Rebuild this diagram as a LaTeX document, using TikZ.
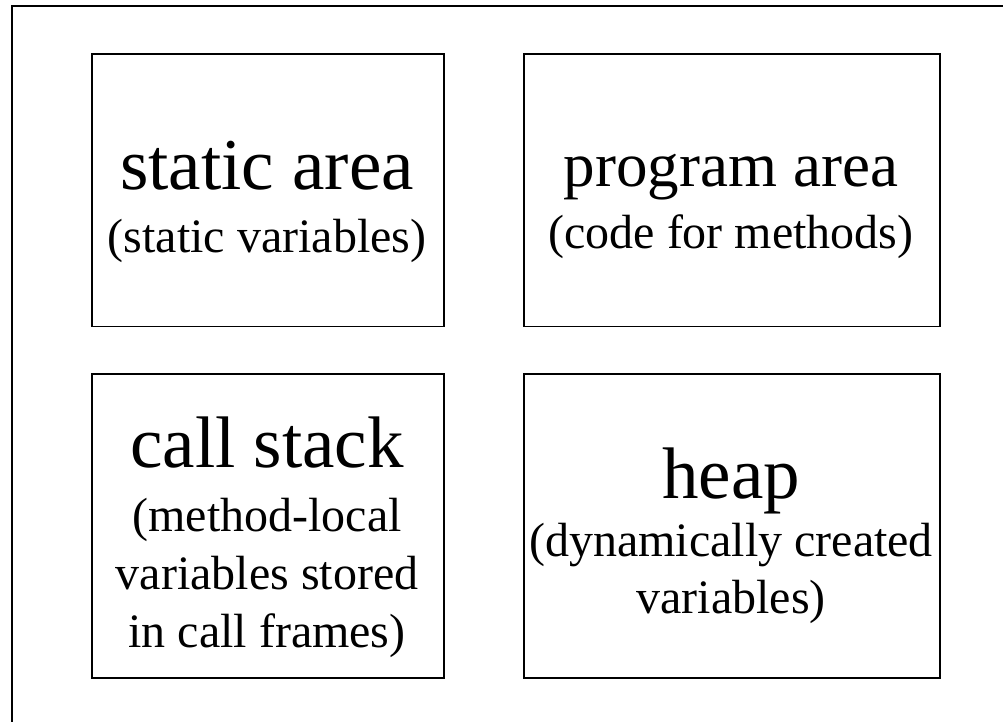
\documentclass[tikz,border=0pt]{standalone}
\usepackage{fontspec}
\setmainfont{Liberation Serif}
\begin{document}
\begin{tikzpicture}[x=1pt,y=-1pt,
  frame/.style={line width=2pt},
  area/.style={draw, line width=1.5pt, rectangle, inner sep=0pt},
  big/.style={anchor=base, inner sep=0pt, font=\fontsize{73}{88}\selectfont},
  mid/.style={anchor=base, inner sep=0pt, font=\fontsize{63}{76}\selectfont},
  small/.style={anchor=base, inner sep=0pt, font=\fontsize{48}{58}\selectfont}]
\useasboundingbox (0,0) rectangle (1003,721);
\clip (0,0) rectangle (1003,721);
\draw[frame] (12,6) rectangle (1020,740);
% boxes
\node[area, minimum width=352pt, minimum height=272.7pt] (static) at (268,190.35) {};
\node[area, minimum width=416pt, minimum height=272.7pt] (program) at (732,190.35) {};
\node[area, minimum width=352pt, minimum height=304pt] (stack) at (268,526) {};
\node[area, minimum width=416pt, minimum height=304pt] (heap) at (732,526) {};
% texts
\node[big] (t1a) at (267,189.5) {static area};
\node[small] (t1b) at (267,252) {(static variables)};
\node[mid] (t2a) at (731,186.7) {program area};
\node[small] (t2b) at (731,248) {(code for methods)};
\node[big] (t3a) at (267,467) {call stack};
\node[small] (t3b) at (267,531.7) {(method-local};
\node[small] (t3c) at (267,589.3) {variables stored};
\node[small] (t3d) at (267,647.3) {in call frames)};
\node[big] (t4a) at (731,498.3) {heap};
\node[small] (t4b) at (731,556.7) {(dynamically created};
\node[small] (t4c) at (731,613.3) {variables)};
\end{tikzpicture}
\end{document}
